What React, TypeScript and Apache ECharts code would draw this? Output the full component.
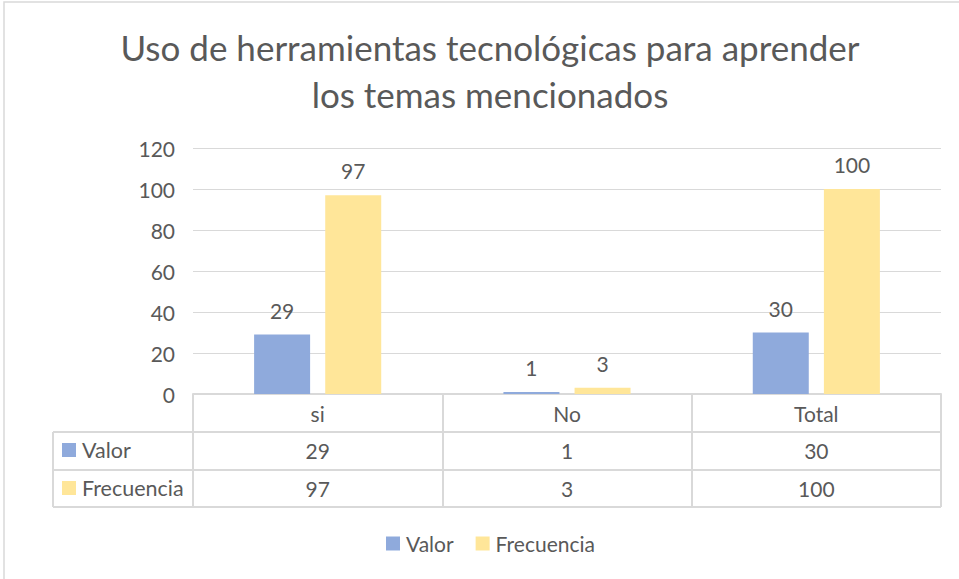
import React, { useEffect, useRef } from "react";
import * as echarts from "echarts";

const categories = ["si", "No", "Total"];
const seriesNames = ["Valor", "Frecuencia"];
const valor = [29, 1, 30];
const frecuencia = [97, 3, 100];
const titleText = "Uso de herramientas tecnológicas para aprender\nlos temas mencionados";

const COLORS = ["#8FAADC", "#FFE699"];
const TEXT = "#595959";
const LINE = "#D9D9D9";
const FONT = "Lato";

export default function App() {
  const ref = useRef<HTMLDivElement>(null);
  useEffect(() => {
    document.body.style.margin = "0";
    const chart = echarts.init(ref.current!, null, { renderer: "svg" });
    const rows = [valor, frecuencia];
    const gridLeft = 193;
    const gridRight = 941;
    const axisY = 394;
    const rowH = 38;
    const tableLeft = 53;

    const extraAxes = rows.map((vals, r) => ({
      type: "category",
      data: categories,
      position: "bottom",
      offset: rowH * (r + 1) - 1,
      axisLine: { show: false },
      axisTick: { show: false },
      axisLabel: {
        margin: 9,
        fontSize: 21,
        fontFamily: FONT,
        color: TEXT,
        formatter: (_v: string, i: number) => String(vals[i]),
      },
    }));

    const graphic: any[] = [
      {
        type: "rect",
        shape: { x: 4, y: 2, width: 1200, height: 1200 },
        style: { fill: "none", stroke: LINE, lineWidth: 1.5 },
        silent: true,
      },
    ];
    for (let r = 1; r <= 3; r++) {
      const y = axisY + rowH * r - (r === 3 ? 1 : 0);
      graphic.push({
        type: "line",
        shape: { x1: tableLeft, y1: y, x2: gridRight, y2: y },
        style: { stroke: LINE, lineWidth: 2 },
        silent: true,
      });
    }
    graphic.push({
      type: "line",
      shape: { x1: tableLeft, y1: axisY + rowH, x2: tableLeft, y2: axisY + rowH * 3 - 1 },
      style: { stroke: LINE, lineWidth: 2 },
      silent: true,
    });
    seriesNames.forEach((name, r) => {
      const cy = axisY + rowH * (r + 1) + rowH / 2 - 1;
      graphic.push({
        type: "rect",
        shape: { x: 62, y: cy - 7, width: 14, height: 14 },
        style: { fill: COLORS[r] },
        silent: true,
      });
      graphic.push({
        type: "text",
        x: 82,
        y: cy,
        style: {
          text: name,
          fontSize: 21.5,
          fontFamily: FONT,
          fill: TEXT,
          verticalAlign: "middle",
          align: "left",
        },
        silent: true,
      });
    });

    const barLabel = {
      show: true,
      position: "top",
      distance: 14,
      fontSize: 21,
      fontFamily: FONT,
      color: TEXT,
    };

    chart.setOption({
      animation: false,
      textStyle: { fontFamily: FONT },
      title: {
        text: titleText,
        left: 490,
        top: 23,
        textAlign: "center",
        padding: 0,
        textStyle: {
          fontSize: 35,
          fontWeight: "normal",
          fontFamily: FONT,
          color: TEXT,
          lineHeight: 47,
        },
      },
      legend: {
        data: seriesNames,
        left: 381,
        top: 528,
        icon: "rect",
        itemWidth: 14,
        itemHeight: 14,
        itemGap: 22,
        textStyle: { fontSize: 21, fontFamily: FONT, color: TEXT, padding: [0, 0, 0, 1] },
      },
      grid: { left: gridLeft, right: 959 - gridRight, top: 148, bottom: 579 - axisY, containLabel: false },
      xAxis: [
        {
          type: "category",
          data: categories,
          position: "bottom",
          axisLine: { show: true, lineStyle: { color: LINE, width: 2 } },
          axisTick: { show: true, alignWithLabel: false, interval: 0, length: rowH * 3 - 1, lineStyle: { color: LINE, width: 2 } },
          axisLabel: { margin: 9, fontSize: 21, fontFamily: FONT, color: TEXT },
        },
        ...extraAxes,
      ],
      yAxis: {
        type: "value",
        min: 0,
        max: 120,
        interval: 20,
        axisLine: { show: false },
        axisTick: { show: false },
        axisLabel: { margin: 18, fontSize: 21, fontFamily: FONT, color: TEXT },
        splitLine: { lineStyle: { color: LINE, width: 1 } },
      },
      series: [
        {
          name: seriesNames[0],
          type: "bar",
          data: valor,
          barWidth: 56,
          barGap: "27%",
          itemStyle: { color: COLORS[0] },
          label: barLabel,
        },
        {
          name: seriesNames[1],
          type: "bar",
          data: frecuencia,
          barWidth: 56,
          barGap: "27%",
          itemStyle: { color: COLORS[1] },
          label: barLabel,
        },
      ],
      graphic,
    });
    return () => chart.dispose();
  }, []);
  return <div ref={ref} style={{ width: 959, height: 579 }} />;
}
